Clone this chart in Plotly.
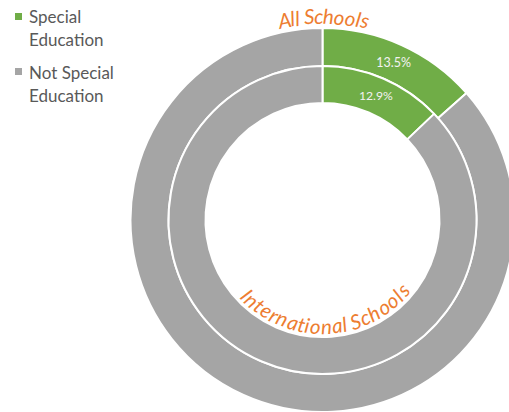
import math
import plotly.graph_objects as go

# ---- data -------------------------------------------------------------
labels = ["Special Education", "Not Special Education"]
legend_lines = [["Special", "Education"], ["Not Special", "Education"]]
all_schools = [13.5, 86.5]            # outer ring, percent of students
international_schools = [12.9, 87.1]  # inner ring, percent of students
ring_titles = ["All Schools", "International Schools"]

colors = ["#70AD47", "#A5A5A5"]
title_color = "#ED7D31"
legend_color = "#595959"
FONT = "Lato"

# ---- layout geometry (pixels) ---------------------------------------
W, H = 515, 412
CX, CY = 322.5, 220
R_OUT, R_SPLIT, R_HOLE = 192, 154, 117


def domain(r):
    return dict(x=[(CX - r) / W, (CX + r) / W],
                y=[1 - (CY + r) / H, 1 - (CY - r) / H])


def px_x(x):
    return x / W


def px_y(y):
    return 1 - y / H


fig = go.Figure()

ring_style = dict(
    labels=labels,
    sort=False,
    direction="clockwise",
    rotation=0,
    marker=dict(colors=colors, line=dict(color="white", width=2)),
    texttemplate=["%{percent:.1%}", ""],
    textposition="inside",
    insidetextorientation="horizontal",
    textfont=dict(family=FONT, size=13.5, color="#F2F2F2"),
    showlegend=False,
    hoverinfo="label+percent",
)

fig.add_trace(go.Pie(values=all_schools, domain=domain(R_OUT),
                     hole=R_SPLIT / R_OUT, name=ring_titles[0], **ring_style))
fig.add_trace(go.Pie(values=international_schools, domain=domain(R_SPLIT),
                     hole=R_HOLE / R_SPLIT, name=ring_titles[1], **ring_style))

# ---- legend: small square swatch + two-line label per category -------
LEG_SIZE = 17
item_top = [13, 68]          # swatch top edge of each item
baselines = [[23, 46], [79.3, 101.7]]
for lines, col, top, bls in zip(legend_lines, colors, item_top, baselines):
    fig.add_shape(type="rect", xref="paper", yref="paper",
                  x0=px_x(15), x1=px_x(22), y0=px_y(top + 7), y1=px_y(top),
                  fillcolor=col, line=dict(width=0))
    for line, bl in zip(lines, bls):
        fig.add_annotation(x=px_x(27), y=px_y(bl - 0.387 * LEG_SIZE),
                           xref="paper", yref="paper", text=line,
                           showarrow=False, xanchor="left", yanchor="middle",
                           font=dict(family=FONT, size=LEG_SIZE,
                                     color=legend_color))

# ---- ring titles set along circular arcs -----------------------------
CHAR_W = {"A": 0.58, "l": 0.23, " ": 0.23, "S": 0.46, "c": 0.42, "h": 0.53,
          "o": 0.53, "s": 0.39, "I": 0.25, "n": 0.53, "t": 0.33, "e": 0.50,
          "r": 0.35, "a": 0.48, "i": 0.23}


def arc_text(text, r, a0, a1, top, size):
    widths = [CHAR_W.get(c, 0.5) for c in text]
    centers, acc = [], 0.0
    for w in widths:
        centers.append(acc + w / 2)
        acc += w
    span = centers[-1] - centers[0]
    for ch, s in zip(text, centers):
        if ch == " ":
            continue
        phi = math.radians(a0 + (s - centers[0]) / span * (a1 - a0))
        px = CX + r * math.sin(phi)
        if top:
            py = CY - r * math.cos(phi)
            ang = math.degrees(phi)
        else:
            py = CY + r * math.cos(phi)
            ang = -math.degrees(phi)
        fig.add_annotation(x=px_x(px), y=px_y(py), xref="paper", yref="paper",
                           text=ch, showarrow=False, textangle=ang,
                           xanchor="center", yanchor="middle",
                           font=dict(family=FONT, size=size, color=title_color,
                                     style="italic"))


arc_text(ring_titles[0], 204, -10.9, 11.9, True, 20.5)
arc_text(ring_titles[1], 106, -45.8, 48.7, False, 20.5)

fig.update_layout(
    width=W, height=H,
    margin=dict(l=0, r=0, t=0, b=0),
    paper_bgcolor="white",
    plot_bgcolor="rgba(0,0,0,0)",
    template="none",
    showlegend=False,
)

fig.write_html("out.html")
